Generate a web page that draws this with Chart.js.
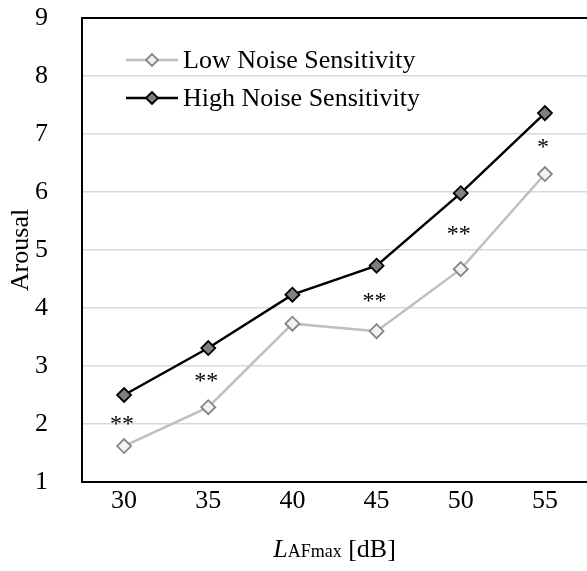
<!DOCTYPE html>
<html>
<head>
<meta charset="utf-8">
<script src="https://cdn.jsdelivr.net/npm/chart.js@4"></script>
<style>
  html, body { margin: 0; padding: 0; background: #fff; overflow: hidden; }
  canvas { display: block; }
</style>
</head>
<body>
<canvas id="arousalChart" width="587" height="571"></canvas>
<script>
const niveles = ['30', '35', '40', '45', '50', '55'];
const bajaSensibilidad = [1.62, 2.29, 3.73, 3.60, 4.67, 6.31];
const altaSensibilidad = [2.50, 3.31, 4.23, 4.73, 5.98, 7.36];
const significancia = ['**', '**', '', '**', '**', '*'];
const yTicks = [1, 2, 3, 4, 5, 6, 7, 8, 9];

const fuente = "'Liberation Serif', 'Times New Roman', serif";

// asteriscos entre las dos curvas
const pluginAsteriscos = {
    id: 'asteriscos',
    afterDatasetsDraw(chart) {
        const ctx = chart.ctx;
        const x = chart.scales.x, y = chart.scales.y;
        ctx.save();
        ctx.font = '24px ' + fuente;
        ctx.fillStyle = '#000';
        ctx.textAlign = 'center';
        ctx.textBaseline = 'alphabetic';
        significancia.forEach(function(txt, i) {
            if (!txt) return;
            let medio = (bajaSensibilidad[i] + altaSensibilidad[i]) / 2;
            ctx.fillText(txt, x.getPixelForValue(i) - 2, y.getPixelForValue(medio) + 10);
        });
        ctx.restore();
    }
};

// leyenda con linea y marcador, dentro del area
const pluginLeyenda = {
    id: 'leyendaLinea',
    afterDraw(chart) {
        const ctx = chart.ctx;
        const filas = [60, 98];
        ctx.save();
        chart.data.datasets.forEach(function(ds, i) {
            let yy = filas[i];
            ctx.strokeStyle = ds.borderColor;
            ctx.lineWidth = ds.borderWidth;
            ctx.beginPath();
            ctx.moveTo(126, yy);
            ctx.lineTo(178, yy);
            ctx.stroke();
            ctx.fillStyle = ds.pointBackgroundColor;
            ctx.strokeStyle = ds.pointBorderColor;
            ctx.lineWidth = ds.pointBorderWidth;
            Chart.helpers.drawPoint(ctx, { pointStyle: 'rectRot', radius: 6, borderWidth: ds.pointBorderWidth }, 152, yy);
            ctx.fillStyle = '#000';
            ctx.font = '26px ' + fuente;
            ctx.textAlign = 'left';
            ctx.textBaseline = 'middle';
            ctx.fillText(ds.label, 183, yy + 1);
        });

        // titulo eje x: L italica + AFmax reducido + [dB]
        const area = chart.chartArea;
        const cx = (area.left + area.right) / 2;
        const base = 557;
        ctx.font = 'italic 26px ' + fuente;
        let w1 = ctx.measureText('L').width;
        ctx.font = '18px ' + fuente;
        let w2 = ctx.measureText('AFmax').width;
        ctx.font = '26px ' + fuente;
        let w3 = ctx.measureText(' [dB]').width;
        let x0 = cx - (w1 + w2 + w3) / 2;
        ctx.textBaseline = 'alphabetic';
        ctx.textAlign = 'left';
        ctx.font = 'italic 26px ' + fuente;
        ctx.fillText('L', x0, base);
        ctx.font = '18px ' + fuente;
        ctx.fillText('AFmax', x0 + w1, base);
        ctx.font = '26px ' + fuente;
        ctx.fillText(' [dB]', x0 + w1 + w2, base);
        ctx.restore();
    }
};

const ctx = document.getElementById('arousalChart').getContext('2d');
new Chart(ctx, {
    type: 'line',
    data: {
        labels: niveles,
        datasets: [{
            label: 'Low Noise Sensitivity',
            data: bajaSensibilidad,
            borderColor: '#bfbfbf',
            borderWidth: 2.5,
            pointStyle: 'rectRot',
            pointRadius: 7,
            pointBackgroundColor: '#f2f2f2',
            pointBorderColor: '#858585',
            pointBorderWidth: 1.8,
            tension: 0
        }, {
            label: 'High Noise Sensitivity',
            data: altaSensibilidad,
            borderColor: '#000000',
            borderWidth: 2.5,
            pointStyle: 'rectRot',
            pointRadius: 7,
            pointBackgroundColor: '#7f7f7f',
            pointBorderColor: '#000000',
            pointBorderWidth: 1.8,
            tension: 0
        }]
    },
    options: {
        responsive: false,
        animation: false,
        layout: { autoPadding: false, padding: { top: 18, right: 0, left: 0, bottom: 0 } },
        plugins: {
            legend: { display: false },
            tooltip: { enabled: false }
        },
        scales: {
            x: {
                offset: true,
                grid: { display: false, drawTicks: false },
                border: { color: '#000', width: 2 },
                ticks: { color: '#000', font: { family: fuente, size: 26 }, padding: 4 },
                afterFit: function(scale) {
                    scale.height = 89;
                    scale.paddingLeft = 0;
                    scale.paddingRight = 0;
                }
            },
            y: {
                min: 1,
                max: 9,
                afterBuildTicks: function(scale) {
                    scale.ticks = yTicks.map(function(v) { return { value: v }; });
                },
                grid: {
                    drawTicks: false,
                    color: function(c) { return c.tick && c.tick.value === 9 ? '#000' : '#d9d9d9'; },
                    lineWidth: function(c) { return c.tick && c.tick.value === 9 ? 2 : 1.5; }
                },
                border: { color: '#000', width: 2 },
                ticks: { color: '#000', font: { family: fuente, size: 26 }, padding: 34 },
                title: {
                    display: true,
                    text: 'Arousal',
                    color: '#000',
                    font: { family: fuente, size: 26 },
                    padding: { top: 6, bottom: 0 }
                },
                afterFit: function(scale) {
                    scale.width = 82;
                    scale.paddingTop = 0;
                    scale.paddingBottom = 0;
                }
            }
        }
    },
    plugins: [pluginAsteriscos, pluginLeyenda]
});
</script>
</body>
</html>
